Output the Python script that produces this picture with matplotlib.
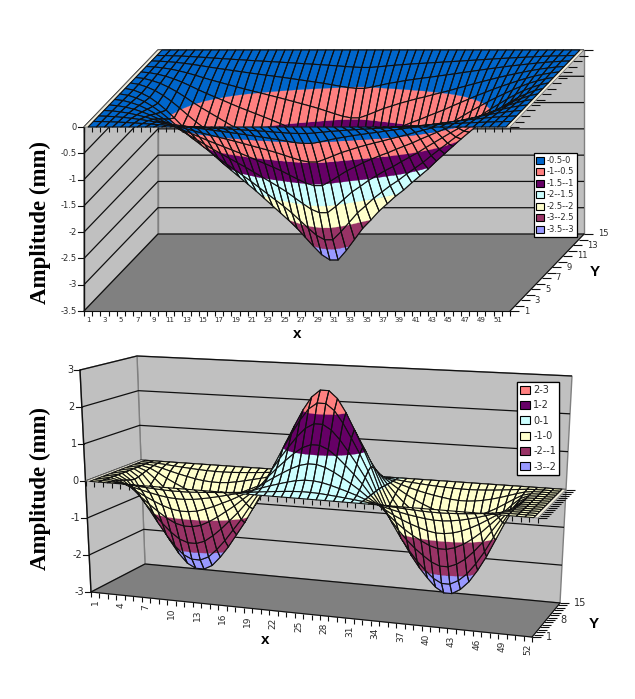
import numpy as np
import matplotlib
matplotlib.use('Agg')
import matplotlib.pyplot as plt
from matplotlib.collections import PolyCollection, LineCollection
from matplotlib.patches import Patch

# Surface profiles in mm along the centre line, and the spanwise weight
top_centre_line = [0.0, -0.03, -0.09, -0.17, -0.28, -0.41, -0.56, -0.72, -0.87, -1.01, -1.15, -1.29, -1.43,
                   -1.56, -1.69, -1.82, -1.95, -2.09, -2.23, -2.37, -2.51, -2.66, -2.83, -3.0, -3.16, -3.26,
                   -3.26, -3.08, -2.87, -2.66, -2.5, -2.33, -2.19, -2.05, -1.93, -1.79, -1.66, -1.53, -1.38,
                   -1.24, -1.1, -0.96, -0.83, -0.7, -0.58, -0.47, -0.36, -0.26, -0.17, -0.1, -0.04, 0.0]
top_span = [0.0, 0.07, 0.16, 0.30, 0.47, 0.66, 0.85, 1.0, 0.85, 0.66, 0.47, 0.30, 0.16, 0.07, 0.0]

bottom_centre_line = [0.0, -0.01, -0.2, -0.6, -1.05, -1.45, -1.82, -2.15, -2.4, -2.52, -2.52, -2.4, -2.15,
                      -1.85, -1.5, -1.15, -0.75, -0.35, 0.05, 0.62, 1.12, 1.58, 2.02, 2.38, 2.58, 2.58,
                      2.38, 2.02, 1.58, 1.12, 0.62, 0.05, -0.45, -0.9, -1.3, -1.65, -1.95, -2.2, -2.42,
                      -2.55, -2.55, -2.42, -2.2, -1.88, -1.5, -1.05, -0.6, -0.2, -0.02, -0.01, 0.0, 0.0]
bottom_span = [0.0, 0.05, 0.15, 0.30, 0.48, 0.68, 0.88, 1.0, 0.88, 0.68, 0.48, 0.30, 0.15, 0.05, 0.0]

top_levels = [-3.5, -3, -2.5, -2, -1.5, -1, -0.5, 0]
top_colors = ['#9999FF', '#993366', '#FFFFCC', '#CCFFFF', '#660066', '#FF8080', '#0066CC']
top_labels = ['-3.5--3', '-3--2.5', '-2.5--2', '-2--1.5', '-1.5--1', '-1--0.5', '-0.5-0']

bottom_levels = [-3, -2, -1, 0, 1, 2, 3]
bottom_colors = ['#9999FF', '#993366', '#FFFFCC', '#CCFFFF', '#660066', '#FF8080']
bottom_labels = ['-3--2', '-2--1', '-1-0', '0-1', '1-2', '2-3']

# Box corners in figure pixels: front/back, left/right, floor/ceiling
top_box = {'flb': (84, 311), 'frb': (510, 311), 'blb': (158, 234), 'brb': (584, 234),
           'flt': (84, 127), 'frt': (510, 127), 'blt': (158, 50), 'brt': (584, 50)}
bot_box = {'flb': (91, 592), 'frb': (532, 637), 'blb': (145, 564), 'brb': (560, 603),
           'flt': (80, 370), 'frt': (544, 399), 'blt': (137, 356), 'brt': (572, 376)}

INK = '#101010'
TEXT = '#2a2a2a'


def project(box, u, v, w):
    """Trilinear map of box coordinates (all 0..1) to pixels."""
    out = []
    for i in range(2):
        front = (1-w)*((1-u)*box['flb'][i] + u*box['frb'][i]) + w*((1-u)*box['flt'][i] + u*box['frt'][i])
        back = (1-w)*((1-u)*box['blb'][i] + u*box['brb'][i]) + w*((1-u)*box['blt'][i] + u*box['brt'][i])
        out.append((1-v)*front + v*back)
    return out[0], out[1]


def clip_band(poly, lo, hi):
    """Clip a polygon of (u, v, z) points to lo <= z <= hi."""
    for limit, sign in ((lo, 1), (hi, -1)):
        clipped = []
        for k in range(len(poly)):
            a, b = poly[k], poly[(k+1) % len(poly)]
            da, db = sign*(a[2]-limit), sign*(b[2]-limit)
            if da >= 0:
                clipped.append(a)
            if da*db < 0:
                t = da/(da-db)
                clipped.append(tuple(a[n] + t*(b[n]-a[n]) for n in range(3)))
        poly = clipped
        if not poly:
            return []
    return poly


def draw_surface(ax, box, centre, span, levels, colors, zmin, zmax):
    z = np.outer(span, centre)
    nx, ny = len(centre), len(span)
    ucoord = (np.arange(nx) + 0.5)/nx
    vcoord = np.arange(ny)/(ny-1)
    z0 = (0-zmin)/(zmax-zmin)
    polys, faces, edges, lws = [], [], [], []
    to_px = lambda p: project(box, p[0], p[1], (p[2]-zmin)/(zmax-zmin))
    # back rows first so the near half of the surface covers the far half
    for j in range(ny-2, -1, -1):
        outlines = []
        for i in range(nx-1):
            cell = [(ucoord[i], vcoord[j], z[j, i]), (ucoord[i+1], vcoord[j], z[j, i+1]),
                    (ucoord[i+1], vcoord[j+1], z[j+1, i+1]), (ucoord[i], vcoord[j+1], z[j+1, i])]
            for b, col in enumerate(colors):
                piece = clip_band(cell, levels[b], levels[b+1])
                if len(piece) > 2 and max(p[2] for p in piece) > levels[b]:
                    polys.append([to_px(p) for p in piece])
                    faces.append(col)
                    edges.append(col)
                    lws.append(0.2)
            outlines.append([to_px(p) for p in cell])
        # the mesh goes on after the whole row so neighbours do not cover it
        for outline in outlines:
            polys.append(outline)
            faces.append('none')
            edges.append(INK)
            lws.append(0.8)
    ax.add_collection(PolyCollection(polys, facecolors=faces, edgecolors=edges, linewidths=lws, zorder=5))
    # pale margins between the outer mesh columns and the side walls
    for u0, u1 in ((0, ucoord[0]), (ucoord[-1], 1)):
        strip = [project(box, u0, 0, z0), project(box, u1, 0, z0), project(box, u1, 1, z0), project(box, u0, 1, z0)]
        ax.add_patch(plt.Polygon(strip, fc='#EFEBD8', ec='#6a6a6a', lw=0.5, zorder=4.5))


def draw_walls(ax, box, z_ticks, zmin, zmax):
    ax.fill(*zip(box['blb'], box['brb'], box['frb'], box['flb']), color='#808080', zorder=1)
    ax.fill(*zip(box['blb'], box['brb'], box['brt'], box['blt']), fc='#C0C0C0', ec='#808080', lw=1, zorder=1)
    ax.fill(*zip(box['flb'], box['blb'], box['blt'], box['flt']), fc='#C0C0C0', ec='#808080', lw=1, zorder=1)
    grid = []
    for t in z_ticks:
        w = (t-zmin)/(zmax-zmin)
        grid.append([project(box, 0, 0, w), project(box, 0, 1, w), project(box, 1, 1, w)])
    ax.add_collection(LineCollection(grid, colors=INK, linewidths=0.9, zorder=2))
    ax.plot(*zip(box['flb'], box['flt']), color=INK, lw=1, zorder=3)
    ax.plot(*zip(box['flb'], box['frb']), color=INK, lw=0.8, zorder=3)
    ax.plot(*zip(box['frb'], box['brb']), color=INK, lw=0.8, zorder=3)


def draw_ticks(ax, box, z_ticks, zmin, zmax, x_step, y_step, x_rot, fonts):
    nx, ny = 52, 15
    z0 = (0-zmin)/(zmax-zmin)
    lines = []
    for w in (0, z0):
        for i in range(nx+1):
            px, py = project(box, i/nx, 0, w)
            lines.append([(px, py), (px, py + 5)])
        for j in range(ny):
            px, py = project(box, 1, j/(ny-1), w)
            lines.append([(px, py), (px + 9, py)])
    ax.add_collection(LineCollection(lines, colors=INK, linewidths=0.8, zorder=3))
    for t in z_ticks:
        px, py = project(box, 0, 0, (t-zmin)/(zmax-zmin))
        ax.plot([px-6, px], [py, py], color=INK, lw=0.8, zorder=3)
        ax.text(px-7, py, f'{t:g}', ha='right', va='center', fontsize=fonts[0], color=TEXT, zorder=6)
    for k in range(1, nx+1, x_step):
        px, py = project(box, (k-0.5)/nx, 0, 0)
        if x_rot:
            ax.text(px, py+7, str(k), rotation=90, ha='center', va='top', fontsize=fonts[1], color=TEXT)
        else:
            ax.text(px, py+9, str(k), ha='center', va='center', fontsize=fonts[1], color=TEXT)
    for k in range(1, ny+1, y_step):
        px, py = project(box, 1, (k-1)/(ny-1), 0)
        ax.text(px+14, py, str(k), ha='left', va='center', fontsize=fonts[0], color=TEXT)


def add_legend(ax, colors, labels, x, y, fontsize, spacing, handle):
    handles = [Patch(facecolor=c, edgecolor='black', linewidth=0.8) for c in colors[::-1]]
    leg = ax.legend(handles, labels[::-1], loc='upper left', bbox_to_anchor=(x, y),
                    bbox_transform=ax.transData, fontsize=fontsize, fancybox=False, framealpha=1,
                    edgecolor='black', borderpad=0.35, labelspacing=spacing, handlelength=handle,
                    handleheight=0.9, handletextpad=0.35, borderaxespad=0)
    leg.get_frame().set_linewidth(0.9)
    leg.set_zorder(7)
    for t in leg.get_texts():
        t.set_color(TEXT)
    # keep it when a second legend is added to the same axes
    ax.add_artist(leg)
    return leg


fig = plt.figure(figsize=(6.35, 6.99), dpi=100)
ax = fig.add_axes([0, 0, 1, 1])
ax.set_xlim(0, 635)
ax.set_ylim(699, 0)
ax.axis('off')

top_ticks = [0, -0.5, -1, -1.5, -2, -2.5, -3, -3.5]
draw_walls(ax, top_box, top_ticks, -3.5, 0)
draw_ticks(ax, top_box, top_ticks, -3.5, 0, 2, 2, False, (6, 5))
draw_surface(ax, top_box, top_centre_line, top_span, top_levels, top_colors, -3.5, 0)
add_legend(ax, top_colors, top_labels, 533.5, 153, 6, 0.3, 0.85)

bot_ticks = [3, 2, 1, 0, -1, -2, -3]
draw_walls(ax, bot_box, bot_ticks, -3, 3)
draw_ticks(ax, bot_box, bot_ticks, -3, 3, 3, 7, True, (7, 6.5))
draw_surface(ax, bot_box, bottom_centre_line, bottom_span, bottom_levels, bottom_colors, -3, 3)
add_legend(ax, bottom_colors, bottom_labels, 516.5, 381.5, 7, 0.55, 1.0)

for y in (222, 488):
    ax.text(40, y, 'Amplitude (mm)', rotation=90, ha='center', va='center', family='Liberation Serif',
            weight='bold', fontsize=16.5, color='black')
for px, py, s in ((297, 334, 'x'), (595, 272, 'Y'), (265, 640, 'x'), (594, 624, 'Y')):
    ax.text(px, py, s, ha='center', va='center', family='Liberation Sans', weight='bold', fontsize=11)

fig.savefig('out.png', dpi=100)
